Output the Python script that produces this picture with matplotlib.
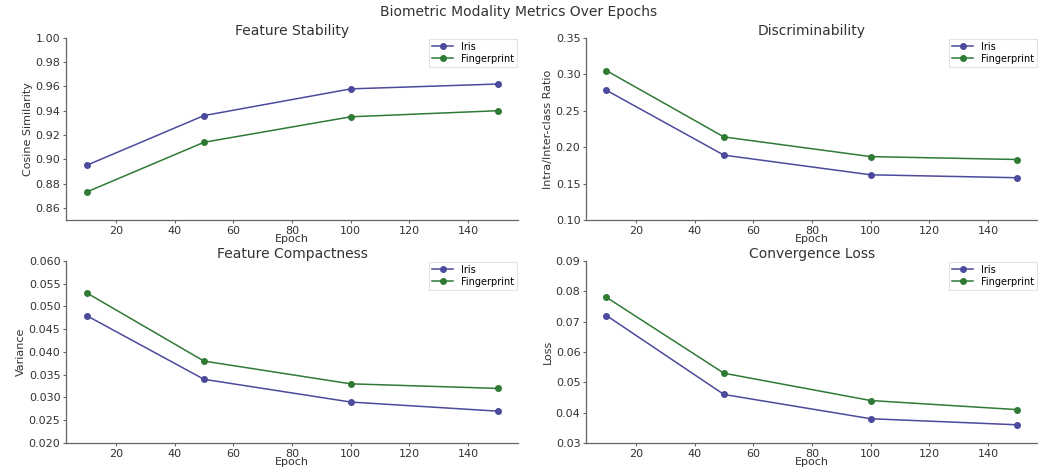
import matplotlib
matplotlib.use("Agg")
import matplotlib.pyplot as plt
import numpy as np

# data
epochs = [10, 50, 100, 150]

stab_iris = [0.895, 0.936, 0.958, 0.962]
stab_finger = [0.873, 0.914, 0.935, 0.940]

disc_iris = [0.278, 0.189, 0.162, 0.158]
disc_finger = [0.305, 0.214, 0.187, 0.183]

comp_iris = [0.048, 0.034, 0.029, 0.027]
comp_finger = [0.053, 0.038, 0.033, 0.032]

loss_iris = [0.072, 0.046, 0.038, 0.036]
loss_finger = [0.078, 0.053, 0.044, 0.041]

titles = ["Feature Stability", "Discriminability", "Feature Compactness", "Convergence Loss"]
ylabels = ["Cosine Similarity", "Intra/Inter-class Ratio", "Variance", "Loss"]
ylims = [(0.85, 1.00), (0.10, 0.35), (0.020, 0.060), (0.03, 0.09)]
yticks = [np.arange(0.86, 1.001, 0.02), np.arange(0.10, 0.351, 0.05),
          np.arange(0.020, 0.0601, 0.005), np.arange(0.03, 0.0901, 0.01)]
yfmt = ["%.2f", "%.2f", "%.3f", "%.2f"]

iris_col = "#4b4a9c"
finger_col = "#2f7a35"
txt_col = "#333333"

fig = plt.figure(figsize=(10.38, 4.68), dpi=100)
positions = [
    [0.0636, 0.530, 0.4355, 0.389],
    [0.5645, 0.530, 0.4355, 0.389],
    [0.0636, 0.0534, 0.4355, 0.389],
    [0.5645, 0.0534, 0.4355, 0.389],
]
series = [(stab_iris, stab_finger), (disc_iris, disc_finger),
          (comp_iris, comp_finger), (loss_iris, loss_finger)]

for i in range(4):
    ax = fig.add_axes(positions[i])
    iris, finger = series[i]
    ax.plot(epochs, iris, marker="o", color=iris_col, lw=1.1, ms=4, label="Iris")
    ax.plot(epochs, finger, marker="o", color=finger_col, lw=1.1, ms=4, label="Fingerprint")
    ax.set_ylim(*ylims[i])
    ax.set_yticks(yticks[i])
    ax.yaxis.set_major_formatter(matplotlib.ticker.FormatStrFormatter(yfmt[i]))
    ax.set_xticks([20, 40, 60, 80, 100, 120, 140])
    ax.set_title(titles[i], fontsize=10, color=txt_col, pad=2)
    ax.set_xlabel("Epoch", fontsize=8, color=txt_col, labelpad=-1)
    ax.set_ylabel(ylabels[i], fontsize=8, color=txt_col,
                  family=["Liberation Sans Narrow", "DejaVu Sans"], labelpad=2)
    for s in ["top", "right"]:
        ax.spines[s].set_visible(False)
    for s in ["left", "bottom"]:
        ax.spines[s].set_color("#666666")
        ax.spines[s].set_linewidth(0.9)
    ax.tick_params(labelsize=8, colors=txt_col, length=2.5, width=0.8, pad=1.5)
    ax.tick_params(color="#666666")
    leg = ax.legend(loc="upper right", fontsize=7, frameon=True, handlelength=2.2,
                    borderaxespad=0.1, fancybox=False, borderpad=0.3, labelspacing=0.2)
    leg.get_frame().set_edgecolor("#dddddd")
    leg.get_frame().set_linewidth(0.8)

fig.suptitle("Biometric Modality Metrics Over Epochs", fontsize=10, color=txt_col, y=0.99)
fig.savefig("out.png", dpi=100)
